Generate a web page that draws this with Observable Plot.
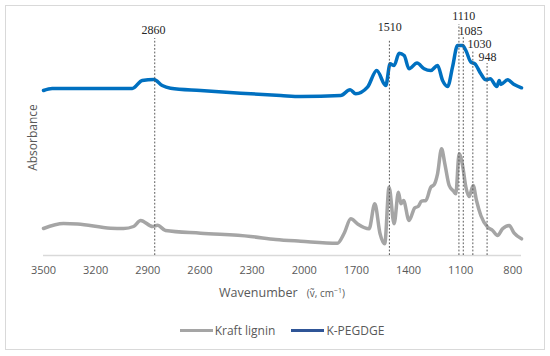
<!DOCTYPE html>
<html>
<head>
<meta charset="utf-8">
<script src="https://cdn.jsdelivr.net/npm/d3@7"></script>
<script src="https://cdn.jsdelivr.net/npm/@observablehq/plot@0.6"></script>
<style>
  html, body { margin: 0; padding: 0; background: #fff; }
  #wrap { position: relative; width: 550px; height: 356px; overflow: hidden; }
  #frame { position: absolute; left: 5px; top: 5px; width: 540px; height: 345px; box-sizing: border-box; border: 1px solid #d9d9d9; pointer-events: none; }
  #chart { position: absolute; left: 0; top: 0; }
  #xtitle { position: absolute; left: 43px; width: 478px; top: 284px; text-align: center; font-family: "Open Sans", sans-serif; color: #595959; font-size: 12.5px; white-space: nowrap; }
  #xtitle .unit { font-size: 10px; margin-left: 6px; }
  #legend { position: absolute; left: 0; width: 550px; top: 322px; display: flex; justify-content: center; align-items: center; font-family: "Open Sans", sans-serif; color: #595959; font-size: 12px; gap: 16px; margin-left: 7px; }
  .item { display: flex; align-items: center; }
  .sw { display: inline-block; width: 33px; height: 3.5px; margin-right: 2px; }
</style>
</head>
<body>
<div id="wrap">
  <div id="chart"></div>
  <div id="frame"></div>
  <div id="xtitle">Wavenumber <span class="unit">(ṽ, cm<sup style="font-size:7px">−1</sup>)</span></div>
  <div id="legend"></div>
</div>
<script>
// Wavenumber ticks
const xTicks = [3500, 3200, 2900, 2600, 2300, 2000, 1700, 1400, 1100, 800];

// Kraft lignin spectrum (wavenumber, absorbance a.u.)
const kraftWn  = [3500, 3385, 3304, 3114, 3039, 2982, 2941, 2872, 2844, 2798, 2596, 2308, 2164, 2020,
                  1809, 1771, 1732, 1694, 1627, 1594, 1564, 1537, 1512, 1483, 1458, 1444, 1429, 1397,
                  1364, 1345, 1325, 1300, 1272, 1253, 1233, 1210, 1191, 1166, 1141, 1128, 1109, 1089,
                  1070, 1051, 1028, 1009, 984, 945, 916, 888, 859, 821, 792, 750];
const kraftAbs = [0.27, 0.32, 0.315, 0.273, 0.27, 0.29, 0.35, 0.29, 0.303, 0.25, 0.223, 0.19, 0.16, 0.143,
                  0.123, 0.22, 0.367, 0.317, 0.267, 0.517, 0.22, 0.117, 0.683, 0.317, 0.633, 0.517, 0.55, 0.35,
                  0.477, 0.49, 0.543, 0.55, 0.683, 0.707, 0.817, 1.067, 0.917, 0.70, 0.643, 0.617, 1.017, 0.90,
                  0.683, 0.59, 0.70, 0.55, 0.40, 0.283, 0.25, 0.20, 0.267, 0.30, 0.223, 0.167];

// K-PEGDGE spectrum
const pegWn  = [3500, 3450, 2989, 2932, 2865, 2817, 2769, 2596, 2366, 2135, 2020, 1790, 1736, 1704,
                1636, 1583, 1531, 1506, 1483, 1454, 1425, 1397, 1351, 1310, 1272, 1233, 1204, 1175,
                1147, 1118, 1089, 1070, 1041, 1018, 984, 955, 930, 892, 878, 869, 830, 792, 750];
const pegAbs = [1.65, 1.67, 1.67, 1.75, 1.76, 1.70, 1.673, 1.65, 1.623, 1.60, 1.59, 1.60, 1.657, 1.617,
                1.683, 1.85, 1.70, 1.917, 1.90, 2.023, 2.00, 1.867, 1.925, 1.867, 1.85, 1.90, 1.75, 1.69,
                1.883, 2.10, 2.10, 2.05, 1.933, 1.917, 1.817, 1.757, 1.767, 1.69, 1.75, 1.71, 1.757, 1.71, 1.677];

// Annotated bands: wavenumber, top of marker line, label position (data units)
const bandWn     = [2860, 1510, 1110, 1085, 1030, 948];
const bandTop    = [2.17, 2.16, 2.31, 2.18, 2.05, 1.92];
const bandLabels = ["2860", "1510", "1110", "1085", "1030", "948"];
const labelWn    = [2867, 1508, 1082, 1044, 992, 946];
const labelAbs   = [2.25, 2.28, 2.39, 2.24, 2.11, 1.98];

const seriesNames  = ["Kraft lignin", "K-PEGDGE"];
const seriesColors = ["#A5A5A5", "#0070C0"];
const legendColors = ["#A5A5A5", "#2F5597"];

const kraft = kraftWn.map((w, i) => ({wn: w, abs: kraftAbs[i]}));
const peg = pegWn.map((w, i) => ({wn: w, abs: pegAbs[i]}));
const bands = bandWn.map((w, i) => ({wn: w, top: bandTop[i], label: bandLabels[i], lx: labelWn[i], ly: labelAbs[i]}));

const chart = Plot.plot({
  width: 550,
  height: 356,
  marginLeft: 43,
  marginRight: 29,
  marginTop: 0,
  marginBottom: 101,
  style: {fontFamily: "'Open Sans', sans-serif", fontSize: "11px", color: "#595959", background: "transparent"},
  x: {type: "linear", domain: [3500, 750], ticks: xTicks, tickSize: 0, tickPadding: 11, tickFormat: d => String(d), label: null},
  y: {domain: [0, 2.55], axis: null},
  marks: [
    Plot.ruleY([0], {stroke: "#d9d9d9", strokeWidth: 1.5}),
    Plot.line(kraft, {x: "wn", y: "abs", stroke: seriesColors[0], strokeWidth: 3.5, curve: "monotone-x"}),
    Plot.line(peg, {x: "wn", y: "abs", stroke: seriesColors[1], strokeWidth: 3.5, curve: "monotone-x"}),
    Plot.ruleX(bands, {x: "wn", y1: 0, y2: "top", stroke: "#595959", strokeWidth: 1, strokeDasharray: "1.8,1.8"}),
    Plot.text(bands, {x: "lx", y: "ly", text: "label", fill: "#262626", fontFamily: "'Liberation Serif', 'Times New Roman', serif", fontSize: 12, textAnchor: "middle", lineAnchor: "middle"}),
    Plot.text(["Absorbance"], {frameAnchor: "left", rotate: -90, dx: -10.7, dy: 9.5, fill: "#595959", fontSize: 12, textAnchor: "middle", lineAnchor: "middle"})
  ]
});
document.getElementById("chart").appendChild(chart);

const legend = document.getElementById("legend");
seriesNames.forEach((name, i) => {
  const item = document.createElement("div");
  item.className = "item";
  const sw = document.createElement("span");
  sw.className = "sw";
  sw.style.background = legendColors[i];
  item.appendChild(sw);
  item.appendChild(document.createTextNode(name));
  legend.appendChild(item);
});
</script>
</body>
</html>
